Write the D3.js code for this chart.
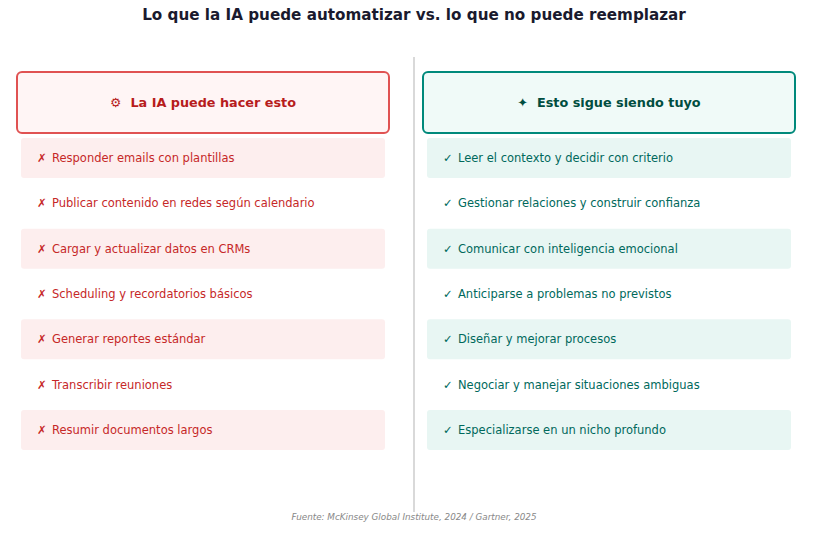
<!DOCTYPE html>
<html><head><meta charset="utf-8">
<script src="https://cdn.jsdelivr.net/npm/d3@7"></script>
<style>body{margin:0;background:#fff}text{font-family:"DejaVu Sans",sans-serif;white-space:pre}</style>
</head><body>
<svg id="chart" width="828" height="535"></svg>
<script>
// data
var aiItems = ["Responder emails con plantillas", "Publicar contenido en redes según calendario",
  "Cargar y actualizar datos en CRMs", "Scheduling y recordatorios básicos",
  "Generar reportes estándar", "Transcribir reuniones", "Resumir documentos largos"];
var humanItems = ["Leer el contexto y decidir con criterio", "Gestionar relaciones y construir confianza",
  "Comunicar con inteligencia emocional", "Anticiparse a problemas no previstos",
  "Diseñar y mejorar procesos", "Negociar y manejar situaciones ambiguas",
  "Especializarse en un nicho profundo"];
var headers = ["⚙  La IA puede hacer esto", "✦  Esto sigue siendo tuyo"];
var marks = ["✗", "✓"];

var svg = d3.select("#chart");

svg.append("text").attr("x", 414).attr("y", 20).attr("text-anchor", "middle")
  .attr("font-size", 15.2).attr("font-weight", "bold").attr("fill", "#1a1a2e")
  .text("Lo que la IA puede automatizar vs. lo que no puede reemplazar");

svg.append("line").attr("x1", 414).attr("x2", 414).attr("y1", 57).attr("y2", 512)
  .attr("stroke", "#cccccc").attr("stroke-width", 1.5);

var cols = [
  {x: 17, items: aiItems, stroke: "#e05252", bg: "#fff5f5", row: "#fdeeee", head: "#b71c1c", text: "#c62828"},
  {x: 423, items: humanItems, stroke: "#00897b", bg: "#f0faf8", row: "#e8f6f3", head: "#004d40", text: "#00695c"}
];

var y = d3.scaleBand().domain(d3.range(7)).range([138, 450]).paddingInner(0.118);

cols.forEach(function(c, ci) {
  svg.append("rect").attr("x", c.x).attr("y", 72).attr("width", 372).attr("height", 61)
    .attr("rx", 5).attr("fill", c.bg).attr("stroke", c.stroke).attr("stroke-width", 2);
  svg.append("text").attr("x", c.x + 186).attr("y", 107).attr("text-anchor", "middle")
    .attr("font-size", 12.8).attr("font-weight", "bold").attr("fill", c.head).text(headers[ci]);

  var g = svg.append("g");
  g.selectAll("rect").data(c.items).enter().filter(function(d, i) { return i % 2 == 0; })
    .append("rect")
    .attr("x", c.x + 4).attr("width", 364)
    .attr("y", function(d) { return y(c.items.indexOf(d)); })
    .attr("height", y.bandwidth()).attr("rx", 3).attr("fill", c.row);

  var rows = g.selectAll("g.item").data(c.items).enter().append("g").attr("class", "item");
  rows.append("text")
    .attr("x", c.x + 20)
    .attr("y", function(d, i) { return y(i) + y.bandwidth() / 2 + 4; })
    .attr("font-size", 11.5).attr("fill", c.text)
    .text(marks[ci]);
  rows.append("text")
    .attr("x", c.x + 35)
    .attr("y", function(d, i) { return y(i) + y.bandwidth() / 2 + 4; })
    .attr("font-size", 11.5).attr("fill", c.text)
    .text(function(d) { return d; });
});

svg.append("text").attr("x", 414).attr("y", 520).attr("text-anchor", "middle")
  .attr("font-size", 8.8).attr("font-style", "italic").attr("fill", "#888888")
  .text("Fuente: McKinsey Global Institute, 2024 / Gartner, 2025");
</script>
</body></html>
